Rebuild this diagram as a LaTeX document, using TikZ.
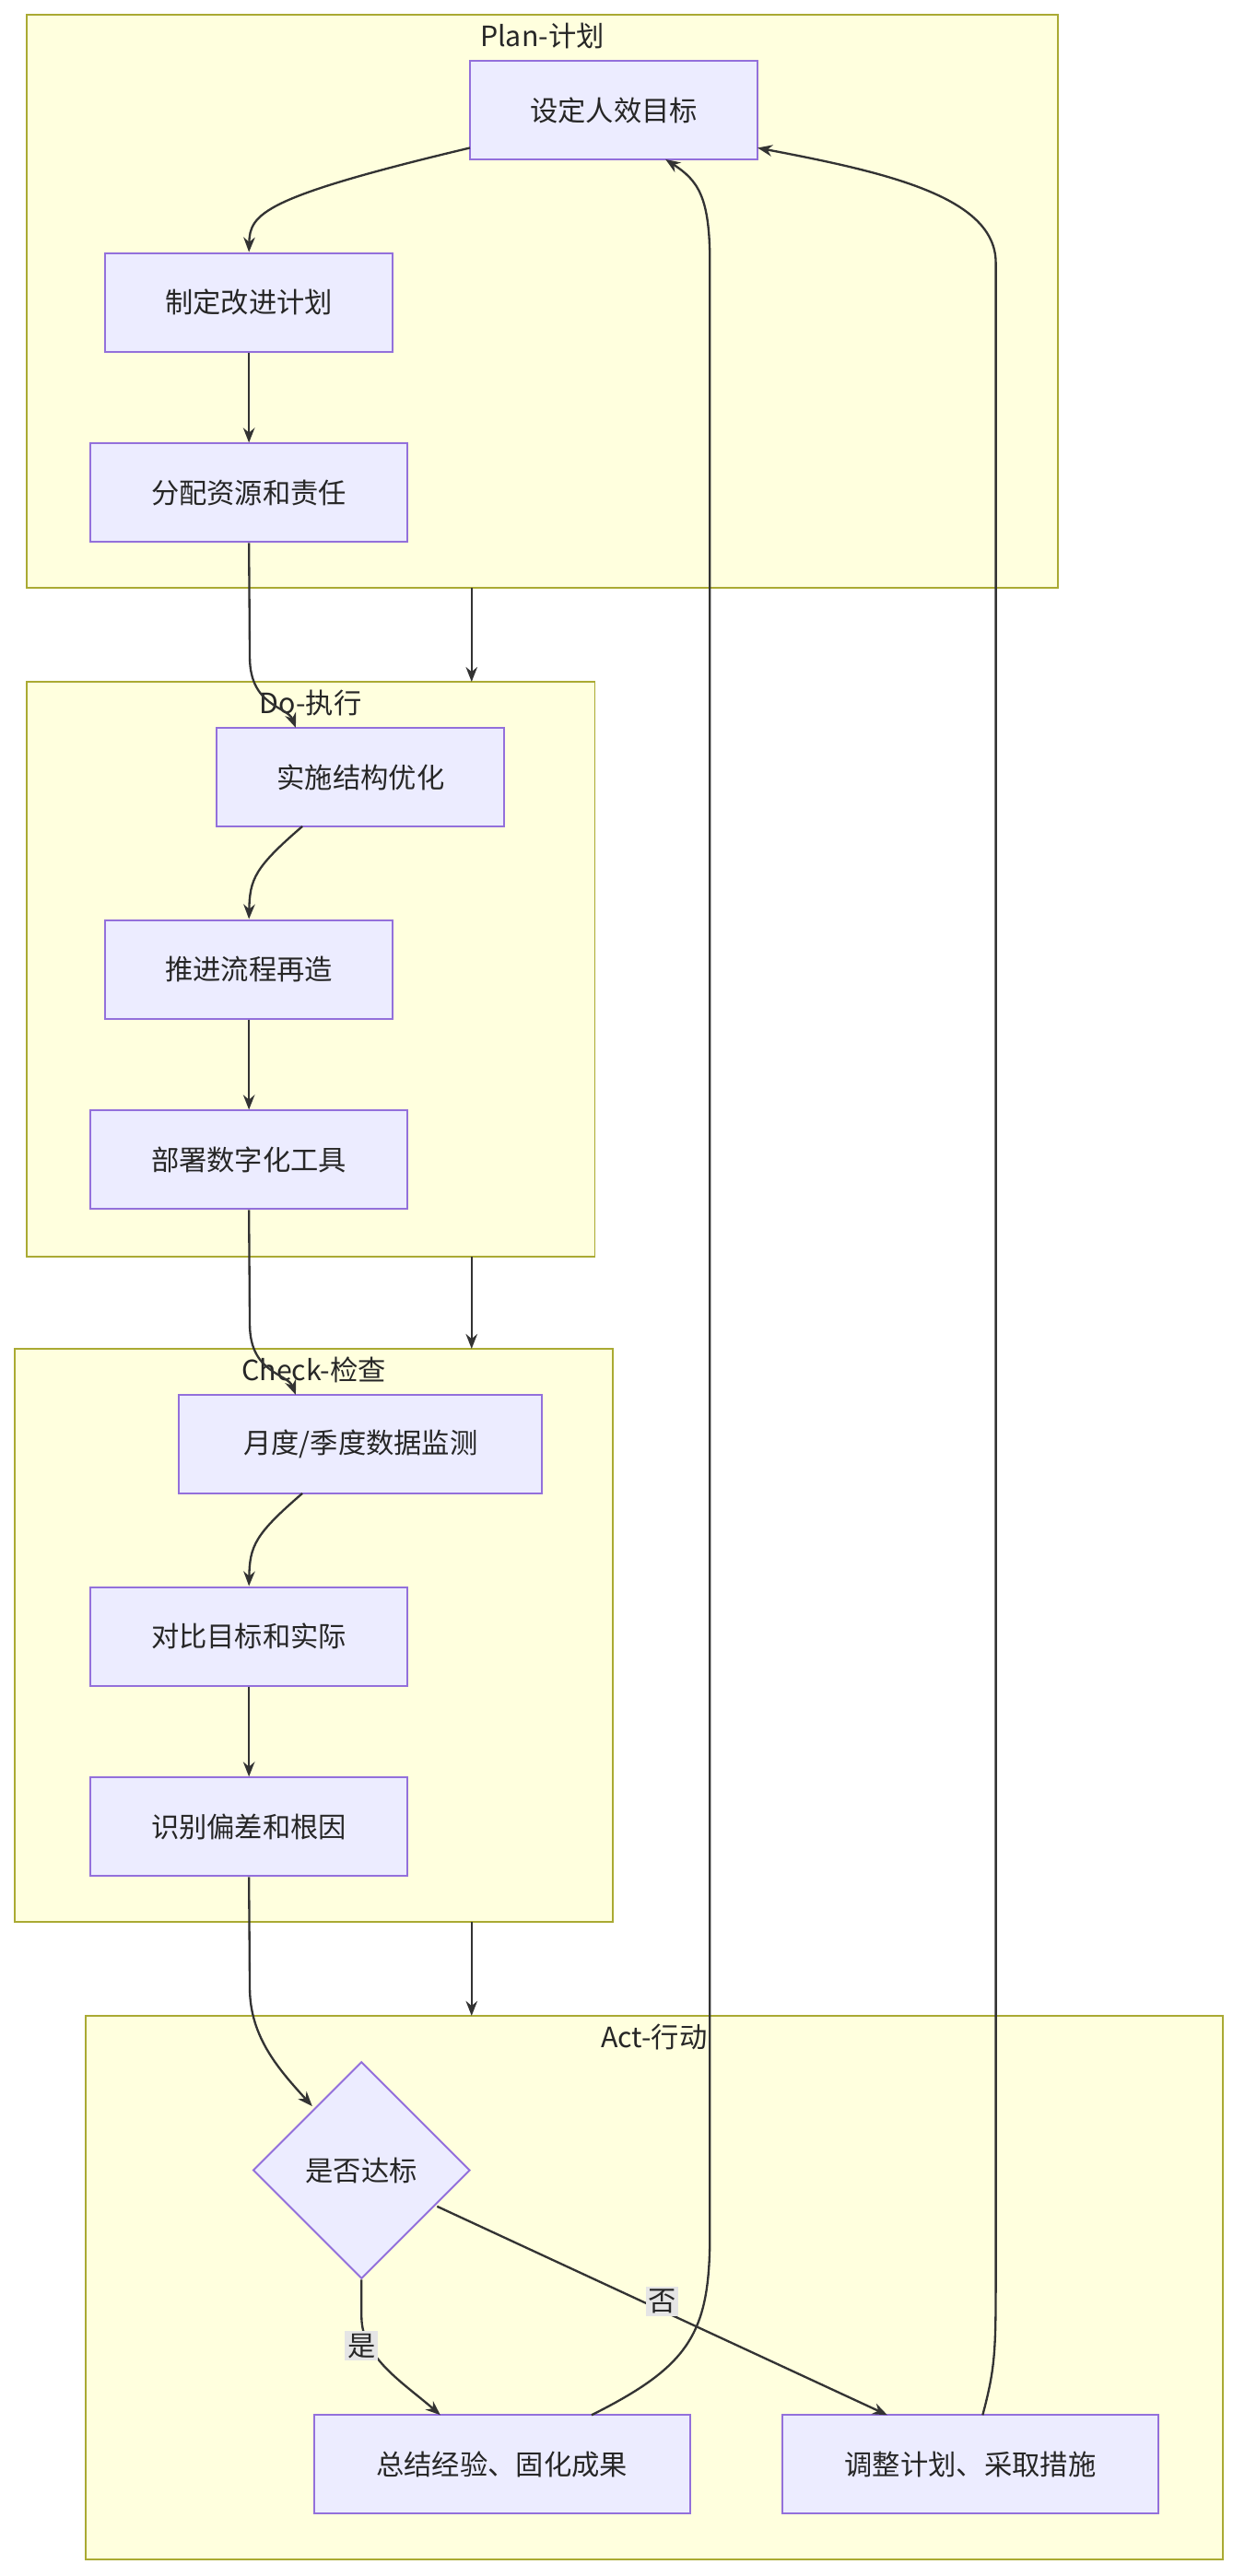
\documentclass[tikz,border=0pt]{standalone}
\usepackage{fontspec}
\setmainfont{Noto Sans CJK SC}
\usetikzlibrary{shapes.geometric,arrows.meta}
\definecolor{clf}{HTML}{FFFFDE}\definecolor{cld}{HTML}{AAAA33}
\definecolor{ndf}{HTML}{ECECFF}\definecolor{ndd}{HTML}{9370DB}
\definecolor{edg}{HTML}{333333}
\begin{document}
\begin{tikzpicture}[x=1pt,y=-1pt,
  cl/.style={draw=cld,fill=clf,line width=1.1pt},
  ttl/.style={font=\fontsize{17}{20}\selectfont,text=black!85},
  nd/.style={draw=ndd,fill=ndf,line width=1.1pt,minimum height=60,inner sep=0,font=\fontsize{17}{20}\selectfont,text=black!85},
  dm/.style={draw=ndd,fill=ndf,line width=1.1pt,diamond,minimum width=132,minimum height=132,inner sep=0,font=\fontsize{17}{20}\selectfont,text=black!85},
  e/.style={draw=edg,line width=1.3pt,-{Stealth[length=9pt,width=7pt]}},
  lb/.style={fill=black!10,inner sep=1.5pt,font=\fontsize{17}{20}\selectfont,text=black!85}]
\useasboundingbox (0,0) rectangle (750,1568);
\draw[cl] (16,9) rectangle (644,358); \node[ttl] at (330,22) {Plan-计划};
\draw[cl] (16,415) rectangle (362,765); \node[ttl] at (189,428) {Do-执行};
\draw[cl] (9,821) rectangle (373,1170); \node[ttl] at (191,834) {Check-检查};
\draw[cl] (52,1227) rectangle (744,1558); \node[ttl] at (398,1240) {Act-行动};
\coordinate (pb) at (287,358); \coordinate (dt) at (287,415);
\coordinate (db) at (287,765); \coordinate (ct) at (287,821);
\coordinate (cb) at (287,1170); \coordinate (at) at (287,1227);
\node[nd,minimum width=175] (a1) at (373.5,67) {设定人效目标};
\node[nd,minimum width=175] (a2) at (151.5,184) {制定改进计划};
\node[nd,minimum width=193] (a3) at (151.5,300) {分配资源和责任};
\node[nd,minimum width=175] (b1) at (219.5,473) {实施结构优化};
\node[nd,minimum width=175] (b2) at (151.5,590) {推进流程再造};
\node[nd,minimum width=193] (b3) at (151.5,706) {部署数字化工具};
\node[nd,minimum width=221] (c1) at (219.5,879) {月度/季度数据监测};
\node[nd,minimum width=193] (c2) at (151.5,996) {对比目标和实际};
\node[nd,minimum width=193] (c3) at (151.5,1112) {识别偏差和根因};
\node[dm] (d) at (220,1321) {是否达标};
\node[nd,minimum width=229] (s) at (305.5,1500) {总结经验、固化成果};
\node[nd,minimum width=229] (t) at (590.5,1500) {调整计划、采取措施};
\draw[e] (286,90) .. controls (160,120) and (152,130) .. (a2.north);
\draw[e] (a2) -- (a3);
\draw[e] (a3.south) -- (152,400) .. controls (152,430) and (175,430) .. (180,443);
\draw[e] (pb) -- (dt); \draw[e] (db) -- (ct); \draw[e] (cb) -- (at);
\draw[e] (184,503) .. controls (155,528) and (152,535) .. (b2.north);
\draw[e] (b2) -- (b3);
\draw[e] (b3.south) -- (152,806) .. controls (152,836) and (175,836) .. (180,849);
\draw[e] (184,909) .. controls (155,934) and (152,941) .. (c2.north);
\draw[e] (c2) -- (c3);
\draw[e] (c3.south) -- (152,1210) .. controls (152,1240) and (170,1260) .. (190,1282);
\draw[e] (d.south) -- (220,1410) .. controls (220,1435) and (245,1450) .. (268,1470);
\node[lb] at (220,1428) {是};
\draw[e] (266,1343) -- (540,1470);
\node[lb] at (403,1401) {否};
\draw[e] (360,1470) .. controls (420,1440) and (432,1420) .. (432,1360) -- (432,160) .. controls (432,120) and (425,110) .. (405,97);
\draw[e] (598,1470) .. controls (606,1440) and (606,1430) .. (606,1380) -- (606,160) .. controls (606,120) and (540,105) .. (461,90);
\end{tikzpicture}
\end{document}
